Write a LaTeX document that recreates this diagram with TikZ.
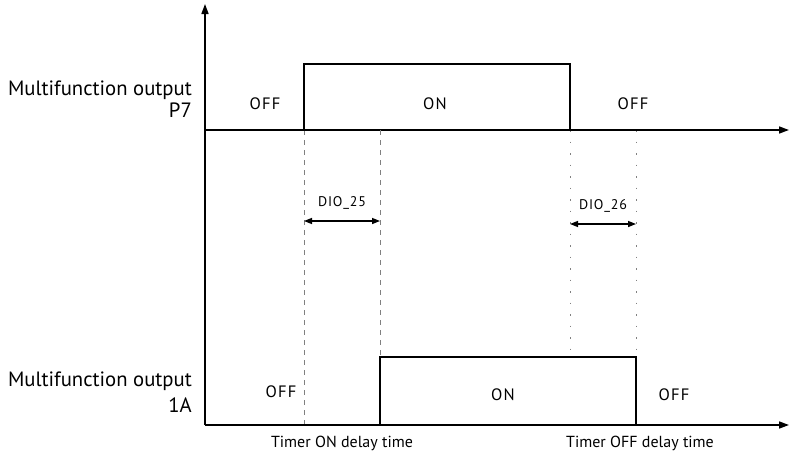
\documentclass[tikz,border=0pt]{standalone}
\usepackage{fontspec}
\setmainfont{PT Sans}
\usetikzlibrary{arrows.meta}
\begin{document}
\begin{tikzpicture}[x=1pt, y=-1pt, every node/.style={inner sep=0pt, font=\fontsize{16}{19}\selectfont},
    axis/.style={line width=1.6pt, -{Triangle[length=10pt,width=7pt]}},
    signal/.style={line width=2.8pt, line join=miter},
    guide/.style={gray, line width=0.9pt, dash pattern=on 5pt off 5pt},
    dotguide/.style={gray, line width=1pt, dash pattern=on 1.5pt off 10pt},
    span/.style={line width=1.4pt, {Triangle[length=8pt,width=6pt]}-{Triangle[length=8pt,width=6pt]}},
    statelabel/.style={anchor=base, font=\fontsize{16.5}{19}\selectfont\addfontfeatures{LetterSpace=8}},
    siglabel/.style={anchor=base east, font=\fontsize{20.7}{24}\selectfont}]
        \useasboundingbox (0,0) rectangle (790,455);

        % axes
        \coordinate (O) at (205,425);
        \coordinate (ytop) at (205,4);
        \coordinate (p0) at (205,130);
        \coordinate (pend) at (789,130);
        \coordinate (aend) at (789,425);
        \draw[axis] (O) -- (ytop);
        \draw[axis] (p0) -- (pend);
        \draw[axis] (O) -- (aend);

        % switching instants
        \coordinate (pup) at (304,130);
        \coordinate (pdn) at (570,130);
        \coordinate (aup) at (380,425);
        \coordinate (adn) at (636,425);

        % guide lines
        \draw[guide] (pup) -- (304,425);
        \draw[guide] (380,130) -- (380,357);
        \draw[dotguide] (pdn) -- (570,357);
        \draw[dotguide] (636,130) -- (636,357);

        % P7 signal
        \draw[signal] (p0) -- (pup) -- (304,64) -- (570,64) -- (pdn) -- (730,130);
        % 1A signal
        \draw[signal] (O) -- (aup) -- (380,357) -- (636,357) -- (adn) -- (730,425);

        % delay spans
        \coordinate (d25a) at (304,221);
        \coordinate (d25b) at (380,221);
        \coordinate (d26a) at (570,224);
        \coordinate (d26b) at (636,224);
        \draw[span] (d25a) -- (d25b);
        \draw[span] (d26a) -- (d26b);
        \node[anchor=base, font=\fontsize{14}{16}\selectfont\addfontfeatures{LetterSpace=6}] (dio25) at (342,206) {DIO\_25};
        \node[anchor=base, font=\fontsize{14}{16}\selectfont\addfontfeatures{LetterSpace=6}] (dio26) at (603,209) {DIO\_26};

        % signal names
        \node[siglabel] (p7a) at (192,95) {Multifunction output};
        \node[siglabel] (p7b) at (192,117) {P7};
        \node[siglabel] (ona) at (192,386) {Multifunction output};
        \node[siglabel] (onb) at (192,412) {1A};

        % states
        \node[statelabel] (poff1) at (265,109) {OFF};
        \node[statelabel] (pon) at (435,109) {ON};
        \node[statelabel] (poff2) at (633,109) {OFF};
        \node[statelabel] (aoff1) at (281,397) {OFF};
        \node[statelabel] (aon) at (503,400) {ON};
        \node[statelabel] (aoff2) at (674,400) {OFF};

        % delay names
        \node[anchor=base] (ton) at (342,447) {Timer ON delay time};
        \node[anchor=base] (toff) at (640,447) {Timer OFF delay time};
    \end{tikzpicture}
\end{document}
